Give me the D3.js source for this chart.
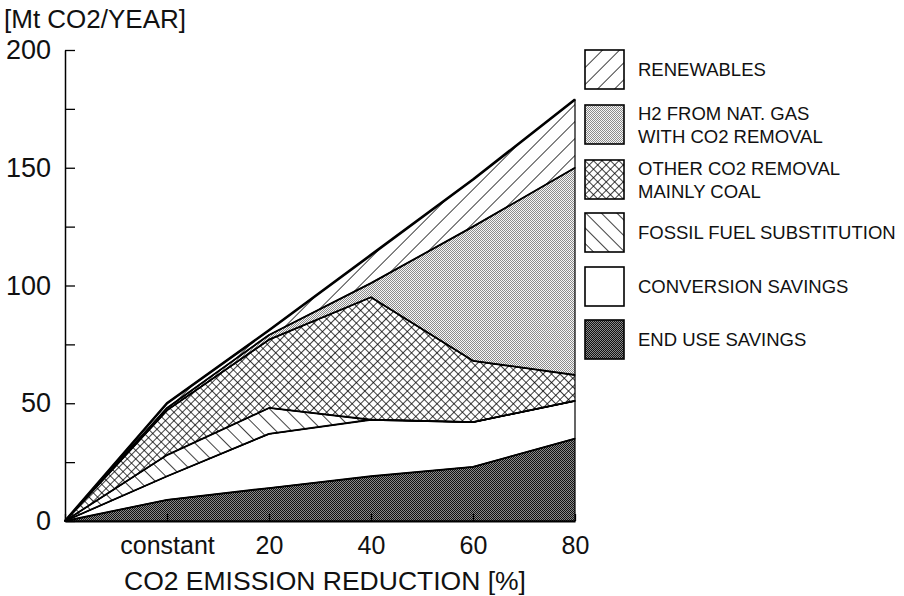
<!DOCTYPE html>
<html>
<head>
<meta charset="utf-8">
<script src="https://cdn.jsdelivr.net/npm/d3@7"></script>
<style>
  body { margin: 0; background: #fff; }
  svg { display: block; font-family: "Liberation Sans", Arial, sans-serif; }
</style>
</head>
<body>
<div id="chart"></div>
<script>
// categories along the x axis (origin has no label)
const categories = ["", "constant", "20", "40", "60", "80"];

// stacked contributions, Mt CO2 / year (bottom to top)
const endUse = [0, 9, 14, 19, 23, 35];
const conversion = [0, 10, 23, 24, 19, 16];
const fossil = [0, 9, 11, 0, 0, 0];
const otherRemoval = [0, 19, 29, 52, 26, 11];
const h2Gas = [0, 1, 2, 6, 57, 88];
const renewables = [0, 2, 2, 12, 20, 29];

const seriesKeys = ["endUse", "conversion", "fossil", "otherRemoval", "h2Gas", "renewables"];
const seriesLabels = {
  endUse: ["END USE SAVINGS"],
  conversion: ["CONVERSION SAVINGS"],
  fossil: ["FOSSIL FUEL SUBSTITUTION"],
  otherRemoval: ["OTHER CO2 REMOVAL", "MAINLY COAL"],
  h2Gas: ["H2 FROM NAT. GAS", "WITH CO2 REMOVAL"],
  renewables: ["RENEWABLES"]
};
const yTicks = [0, 25, 50, 75, 100, 125, 150, 175, 200];

const table = categories.map((c, i) => ({
  cat: c,
  endUse: endUse[i],
  conversion: conversion[i],
  fossil: fossil[i],
  otherRemoval: otherRemoval[i],
  h2Gas: h2Gas[i],
  renewables: renewables[i]
}));

const W = 904, H = 596;
const svg = d3.select("#chart").append("svg").attr("width", W).attr("height", H);

// patterns
const defs = svg.append("defs");
function hatch(id, size, angle, cross, sw) {
  const p = defs.append("pattern")
    .attr("id", id)
    .attr("patternUnits", "userSpaceOnUse")
    .attr("width", size).attr("height", size)
    .attr("patternTransform", `rotate(${angle})`);
  p.append("rect").attr("width", size).attr("height", size).attr("fill", "#fff");
  p.append("line").attr("x1", 0).attr("y1", 0).attr("x2", 0).attr("y2", size)
    .attr("stroke", "#000").attr("stroke-width", sw);
  if (cross) {
    p.append("line").attr("x1", 0).attr("y1", 0).attr("x2", size).attr("y2", 0)
      .attr("stroke", "#000").attr("stroke-width", sw);
  }
}
hatch("p-renew", 12, 45, false, 1.5);
hatch("p-fossil", 11, -45, false, 1.5);
hatch("p-other", 6, 45, true, 1.5);

// fine checkerboard screens
function checker(id, dark, light) {
  const p = defs.append("pattern").attr("id", id)
    .attr("patternUnits", "userSpaceOnUse").attr("width", 2).attr("height", 2);
  p.append("rect").attr("width", 2).attr("height", 2).attr("fill", light);
  p.append("rect").attr("width", 1).attr("height", 1).attr("fill", dark);
  p.append("rect").attr("x", 1).attr("y", 1).attr("width", 1).attr("height", 1).attr("fill", dark);
}
checker("p-h2", "#8c8c8c", "#f6f6f6");
checker("p-end", "#111", "#8a8a8a");

const fills = {
  endUse: "url(#p-end)",
  conversion: "#fff",
  fossil: "url(#p-fossil)",
  otherRemoval: "url(#p-other)",
  h2Gas: "url(#p-h2)",
  renewables: "url(#p-renew)"
};

const x = d3.scalePoint().domain(categories).range([65, 575]);
const y = d3.scaleLinear().domain([0, 200]).range([521, 50]);

const stacked = d3.stack().keys(seriesKeys)(table);

const area = d3.area()
  .x((d) => x(d.data.cat))
  .y0((d) => y(d[0]))
  .y1((d) => y(d[1]));

const topLine = d3.line()
  .x((d) => x(d.data.cat))
  .y((d) => y(d[1]));

// Areas
svg.append("g")
  .selectAll("path")
  .data(stacked)
  .join("path")
  .attr("d", area)
  .attr("fill", (d) => fills[d.key])
  .attr("stroke", "#000")
  .attr("stroke-width", 1.2)
  .attr("stroke-linejoin", "round");

// Boundary lines
svg.append("g")
  .selectAll("path")
  .data(stacked)
  .join("path")
  .attr("d", topLine)
  .attr("fill", "none")
  .attr("stroke", "#000")
  .attr("stroke-width", (d, i) => (i === stacked.length - 1 ? 2.6 : 1.8))
  .attr("stroke-linejoin", "round");

// Y axis
const yAxis = svg.append("g")
  .attr("transform", `translate(${x(categories[0])},0)`)
  .call(d3.axisLeft(y).tickValues(yTicks).tickSizeInner(-10).tickSizeOuter(0).tickPadding(14)
    .tickFormat((d) => (d % 50 === 0 ? d : "")));
yAxis.select(".domain").attr("stroke", "#000").attr("stroke-width", 1.5);
yAxis.selectAll(".tick line").attr("stroke", "#000").attr("stroke-width", 1.3);
yAxis.selectAll("text").attr("fill", "#111").attr("font-size", "27px");

// X axis
const xAxis = svg.append("g")
  .attr("transform", `translate(0,${y(0)})`)
  .call(d3.axisBottom(x).tickSizeInner(-7).tickSizeOuter(0).tickPadding(15));
xAxis.select(".domain").attr("stroke", "#000").attr("stroke-width", 2);
xAxis.selectAll(".tick line").attr("stroke", "#000").attr("stroke-width", 1.3);
xAxis.selectAll("text").attr("fill", "#111").attr("font-size", "25px");

// Axis titles
svg.append("text")
  .attr("x", 4).attr("y", 28)
  .attr("font-size", "26px").attr("fill", "#111")
  .text("[Mt CO2/YEAR]");

svg.append("text")
  .attr("x", 325).attr("y", 590)
  .attr("text-anchor", "middle")
  .attr("font-size", "26.5px").attr("fill", "#111")
  .text("CO2 EMISSION REDUCTION [%]");

// Legend
const legendKeys = seriesKeys.slice().reverse();
const legendTop = [50, 105, 160, 213, 267, 320];
const legend = svg.append("g")
  .selectAll("g")
  .data(legendKeys)
  .join("g")
  .attr("transform", (d, i) => `translate(585,${legendTop[i]})`);

legend.append("rect")
  .attr("width", 39).attr("height", 39)
  .attr("fill", (d) => fills[d])
  .attr("stroke", "#000").attr("stroke-width", 1.6);

legend.each(function (d) {
  const lines = seriesLabels[d];
  const g = d3.select(this);
  lines.forEach((t, j) => {
    g.append("text")
      .attr("x", 53)
      .attr("y", 20 + (j - (lines.length - 1) / 2) * 23)
      .attr("dy", "0.35em")
      .attr("font-size", "18.5px")
      .attr("fill", "#111")
      .text(t);
  });
});
</script>
</body>
</html>
